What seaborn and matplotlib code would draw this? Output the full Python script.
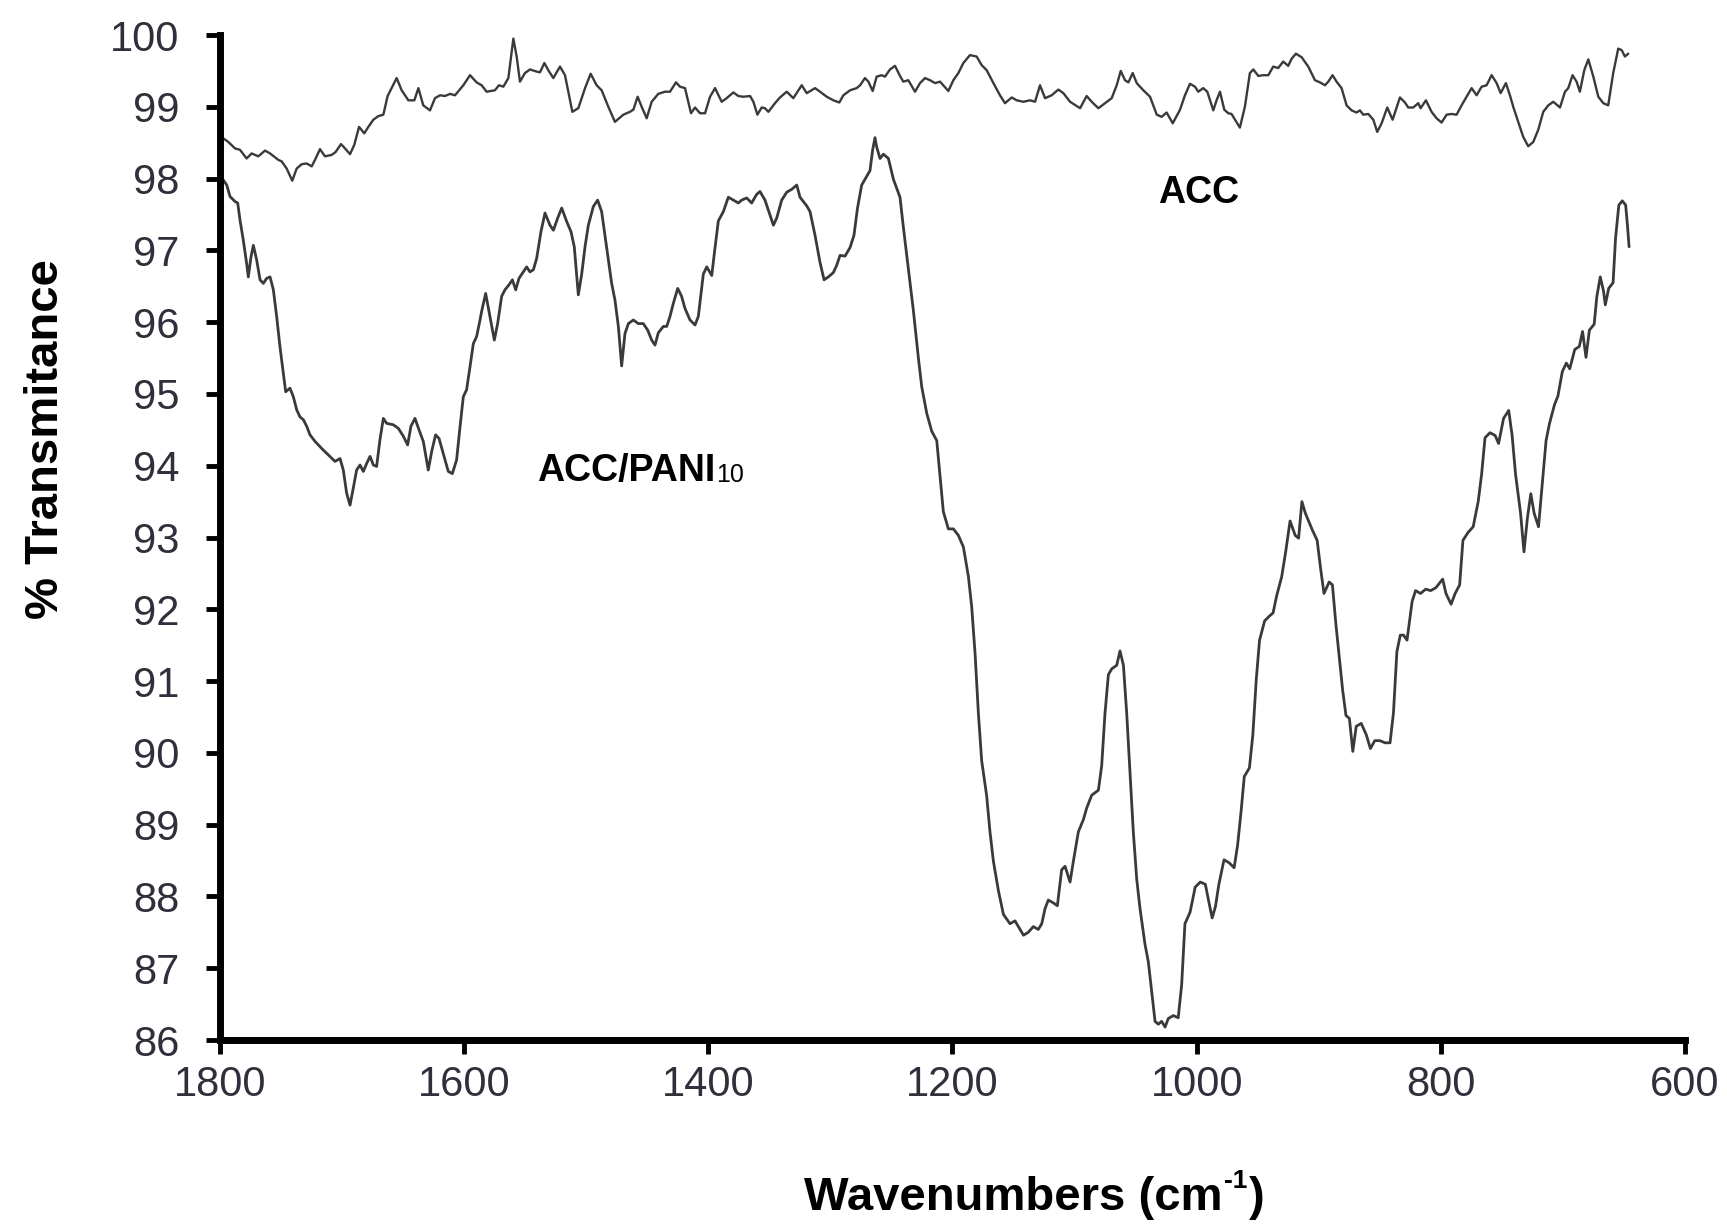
import matplotlib
matplotlib.use("Agg")
import matplotlib.pyplot as plt
import seaborn as sns
import pandas as pd

# ---------------- data ----------------
acc_wn = [1797.3, 1793.2, 1787.7, 1783.6, 1778.2, 1774.1, 1771.3, 1768.6, 1763.1, 1759.0,
          1752.2, 1749.5, 1745.4, 1740.8, 1737.2, 1733.1, 1729.0, 1724.9, 1722.2, 1718.1,
          1714.0, 1708.5, 1705.3, 1700.9, 1697.6, 1693.5, 1690.0, 1686.1, 1681.8, 1678.5,
          1674.4, 1670.3, 1666.2, 1662.7, 1655.3, 1651.2, 1645.7, 1640.8, 1637.5, 1633.5,
          1628.0, 1623.9, 1619.8, 1615.7, 1611.6, 1607.5, 1600.7, 1595.2, 1589.8, 1585.7,
          1581.6, 1574.8, 1571.5, 1567.9, 1563.8, 1559.7, 1557.0, 1554.3, 1550.2, 1546.1,
          1540.6, 1537.9, 1534.3, 1531.1, 1527.0, 1521.5, 1517.4, 1511.4, 1506.5, 1501.0,
          1496.4, 1491.5, 1487.4, 1481.9, 1476.5, 1469.6, 1464.2, 1461.4, 1457.9, 1454.6,
          1450.5, 1446.4, 1441.0, 1435.5, 1431.4, 1426.5, 1423.2, 1419.1, 1414.2, 1410.9,
          1406.8, 1402.7, 1398.6, 1394.5, 1389.1, 1385.0, 1379.5, 1375.4, 1371.3, 1365.8,
          1363.1, 1359.8, 1356.3, 1353.6, 1350.8, 1345.4, 1341.3, 1335.8, 1330.4, 1323.5,
          1319.4, 1312.6, 1308.5, 1303.0, 1297.6, 1292.7, 1289.4, 1283.9, 1278.5, 1275.7,
          1271.7, 1268.9, 1265.4, 1262.1, 1258.0, 1255.3, 1251.2, 1247.1, 1243.0, 1240.3,
          1236.2, 1230.7, 1226.6, 1222.5, 1218.4, 1214.3, 1210.2, 1203.4, 1199.3, 1195.2,
          1191.1, 1185.7, 1180.2, 1176.1, 1172.0, 1166.5, 1161.1, 1157.0, 1151.5, 1147.4,
          1142.0, 1136.5, 1132.4, 1128.3, 1124.2, 1118.8, 1113.3, 1109.2, 1103.7, 1095.5,
          1090.1, 1086.0, 1080.5, 1075.1, 1069.6, 1065.5, 1062.2, 1058.7, 1055.9, 1052.4,
          1049.1, 1043.7, 1038.2, 1032.7, 1028.7, 1024.6, 1019.6, 1013.6, 1009.6, 1005.5,
          1001.4, 998.7, 994.6, 991.3, 986.4, 983.7, 980.9, 977.4, 974.1, 971.4,
          968.6, 964.6, 960.5, 956.4, 953.6, 949.5, 945.4, 941.3, 937.3, 933.2,
          929.1, 925.0, 922.2, 918.7, 914.0, 908.6, 903.1, 899.0, 894.9, 892.2,
          888.7, 885.4, 881.3, 877.2, 873.1, 869.0, 866.3, 863.5, 859.4, 855.3,
          852.1, 848.5, 843.9, 839.5, 833.5, 829.4, 826.7, 822.6, 818.5, 816.6,
          812.2, 807.6, 803.5, 799.4, 795.3, 791.2, 787.1, 783.0, 778.9, 774.8,
          770.7, 766.6, 762.5, 758.4, 754.3, 751.0, 746.7, 743.4, 740.7, 736.6,
          732.5, 728.4, 724.3, 720.2, 716.1, 712.0, 707.9, 702.4, 698.3, 695.6,
          692.1, 688.8, 686.1, 682.5, 679.2, 675.1, 671.0, 666.9, 662.9, 658.8,
          654.7, 651.9, 649.2, 646.5]
acc_t = [98.56, 98.51, 98.42, 98.40, 98.28, 98.35, 98.33, 98.31, 98.39, 98.35,
         98.26, 98.24, 98.14, 97.97, 98.14, 98.20, 98.21, 98.17, 98.26, 98.41,
         98.31, 98.33, 98.37, 98.48, 98.42, 98.34, 98.47, 98.72, 98.63, 98.72,
         98.82, 98.87, 98.89, 99.15, 99.40, 99.23, 99.09, 99.09, 99.26, 99.02,
         98.95, 99.12, 99.16, 99.15, 99.18, 99.16, 99.30, 99.44, 99.34, 99.30,
         99.21, 99.23, 99.30, 99.28, 99.40, 99.95, 99.70, 99.35, 99.47, 99.52,
         99.49, 99.48, 99.61, 99.51, 99.40, 99.56, 99.44, 98.93, 98.98, 99.26,
         99.46, 99.30, 99.23, 99.00, 98.79, 98.89, 98.93, 98.96, 99.14, 99.00,
         98.84, 99.07, 99.18, 99.21, 99.21, 99.34, 99.28, 99.26, 98.91, 98.99,
         98.91, 98.91, 99.14, 99.26, 99.07, 99.12, 99.20, 99.15, 99.14, 99.15,
         99.07, 98.89, 98.99, 98.98, 98.93, 99.05, 99.13, 99.21, 99.12, 99.30,
         99.19, 99.26, 99.21, 99.14, 99.09, 99.06, 99.16, 99.23, 99.26, 99.30,
         99.40, 99.35, 99.22, 99.42, 99.44, 99.42, 99.52, 99.57, 99.43, 99.35,
         99.37, 99.21, 99.33, 99.40, 99.37, 99.33, 99.35, 99.22, 99.37, 99.47,
         99.61, 99.72, 99.70, 99.58, 99.51, 99.33, 99.16, 99.05, 99.13, 99.09,
         99.07, 99.09, 99.07, 99.30, 99.12, 99.16, 99.24, 99.19, 99.07, 98.98,
         99.15, 99.07, 98.98, 99.05, 99.12, 99.30, 99.50, 99.37, 99.34, 99.47,
         99.33, 99.23, 99.14, 98.89, 98.86, 98.92, 98.77, 98.96, 99.16, 99.32,
         99.28, 99.21, 99.26, 99.21, 98.95, 99.09, 99.21, 98.96, 98.91, 98.90,
         98.82, 98.71, 99.00, 99.47, 99.52, 99.43, 99.44, 99.44, 99.56, 99.54,
         99.63, 99.57, 99.67, 99.74, 99.69, 99.56, 99.37, 99.34, 99.30, 99.35,
         99.44, 99.35, 99.26, 99.02, 98.95, 98.92, 98.95, 98.89, 98.90, 98.82,
         98.65, 98.77, 98.99, 98.82, 99.13, 99.06, 98.99, 98.99, 99.05, 98.98,
         99.09, 98.93, 98.84, 98.78, 98.89, 98.90, 98.89, 99.02, 99.14, 99.26,
         99.16, 99.28, 99.30, 99.44, 99.33, 99.19, 99.33, 99.16, 99.00, 98.79,
         98.58, 98.45, 98.51, 98.68, 98.93, 99.02, 99.07, 98.99, 99.21, 99.26,
         99.44, 99.35, 99.21, 99.51, 99.66, 99.42, 99.14, 99.05, 99.02, 99.47,
         99.81, 99.79, 99.70, 99.74]

pani_wn = [1797.3, 1794.5, 1791.8, 1787.7, 1785.5, 1783.6, 1780.9, 1778.2, 1776.8, 1774.6,
           1772.7, 1770.0, 1767.2, 1764.5, 1761.8, 1759.0, 1756.3, 1753.6, 1750.9, 1748.1,
           1746.2, 1742.7, 1739.9, 1737.2, 1734.5, 1731.7, 1729.0, 1726.3, 1722.2, 1716.7,
           1711.3, 1705.8, 1701.7, 1699.0, 1696.3, 1693.5, 1690.8, 1688.1, 1685.3, 1682.6,
           1679.9, 1677.1, 1674.4, 1671.7, 1669.0, 1666.2, 1663.5, 1658.0, 1653.9, 1649.8,
           1646.3, 1643.6, 1640.3, 1637.0, 1633.5, 1629.4, 1626.6, 1623.4, 1620.6, 1617.1,
           1613.0, 1609.7, 1606.2, 1603.4, 1600.7, 1598.0, 1595.2, 1592.5, 1589.8, 1587.0,
           1585.7, 1582.4, 1578.9, 1575.3, 1572.6, 1569.3, 1566.6, 1563.3, 1560.5, 1557.8,
           1555.1, 1551.5, 1548.8, 1546.1, 1543.3, 1540.6, 1537.1, 1533.8, 1529.7, 1526.9,
           1523.4, 1520.1, 1516.0, 1512.5, 1509.8, 1506.5, 1503.8, 1501.0, 1498.3, 1494.2,
           1490.7, 1487.4, 1484.7, 1481.9, 1479.2, 1476.5, 1473.7, 1471.0, 1468.3, 1465.5,
           1461.4, 1457.4, 1453.3, 1449.7, 1446.4, 1443.7, 1441.0, 1436.9, 1434.1, 1431.4,
           1428.7, 1425.1, 1421.9, 1419.1, 1415.0, 1410.9, 1408.2, 1404.1, 1401.3, 1397.2,
           1394.5, 1391.8, 1387.7, 1383.6, 1379.5, 1375.4, 1372.7, 1368.6, 1364.5, 1360.4,
           1357.7, 1353.6, 1349.5, 1346.7, 1344.0, 1339.9, 1335.8, 1331.7, 1327.6, 1324.9,
           1319.4, 1316.7, 1312.6, 1308.5, 1305.2, 1301.7, 1297.6, 1294.9, 1292.1, 1288.0,
           1283.9, 1280.7, 1277.9, 1274.4, 1270.3, 1267.6, 1265.4, 1263.5, 1262.1, 1259.4,
           1256.6, 1252.5, 1248.4, 1243.0, 1240.3, 1236.2, 1232.1, 1228.0, 1225.2, 1221.1,
           1217.0, 1212.9, 1210.2, 1207.5, 1203.4, 1199.3, 1195.2, 1191.1, 1187.0, 1184.3,
           1181.5, 1178.8, 1176.1, 1172.0, 1169.3, 1166.5, 1162.4, 1158.3, 1152.9, 1148.8,
           1144.7, 1141.9, 1137.9, 1133.8, 1129.7, 1126.9, 1124.2, 1121.5, 1117.4, 1114.1,
           1110.6, 1107.8, 1103.7, 1101.0, 1096.9, 1092.8, 1090.1, 1086.0, 1080.5, 1077.8,
           1075.1, 1072.3, 1069.6, 1065.5, 1062.8, 1060.0, 1057.3, 1054.6, 1051.9, 1049.1,
           1046.4, 1042.3, 1039.6, 1036.8, 1034.1, 1031.4, 1028.7, 1025.9, 1023.2, 1019.1,
           1015.1, 1012.3, 1009.6, 1005.4, 1001.2, 997.1, 992.9, 990.1, 987.3, 984.6,
           981.8, 977.6, 973.5, 969.3, 966.5, 963.7, 961.0, 956.8, 954.0, 951.2,
           948.5, 944.3, 940.1, 937.4, 934.6, 930.4, 927.1, 923.5, 919.3, 916.5,
           913.8, 911.0, 905.4, 901.3, 898.5, 895.7, 891.5, 888.8, 886.0, 883.2,
           880.4, 877.7, 874.9, 872.1, 869.3, 865.2, 861.0, 857.7, 854.1, 849.9,
           845.7, 841.6, 838.8, 836.0, 833.2, 830.5, 827.7, 823.5, 820.7, 816.6,
           812.4, 808.3, 804.1, 798.5, 795.8, 791.6, 788.3, 784.6, 781.9, 777.7,
           773.5, 769.4, 766.6, 763.8, 759.7, 755.5, 752.7, 748.6, 744.4, 741.6,
           738.8, 734.7, 731.9, 729.1, 726.3, 723.6, 720.0, 716.6, 713.8, 711.1,
           706.9, 704.1, 700.5, 697.2, 694.4, 690.3, 686.6, 683.9, 681.1, 678.3,
           674.4, 672.2, 669.4, 666.7, 665.3, 662.5, 658.9, 656.9, 654.2, 651.4,
           648.6, 647.2, 645.8]
pani_t = [97.98, 97.91, 97.75, 97.68, 97.66, 97.42, 97.14, 96.82, 96.63, 96.91,
          97.07, 96.87, 96.59, 96.54, 96.61, 96.63, 96.45, 96.08, 95.66, 95.29,
          95.03, 95.08, 94.96, 94.78, 94.68, 94.64, 94.55, 94.43, 94.34, 94.24,
          94.15, 94.06, 94.10, 93.94, 93.62, 93.45, 93.69, 93.94, 94.01, 93.92,
          94.03, 94.13, 94.01, 93.99, 94.36, 94.66, 94.59, 94.57, 94.52, 94.41,
          94.29, 94.55, 94.66, 94.50, 94.34, 93.94, 94.20, 94.43, 94.38, 94.17,
          93.92, 93.89, 94.08, 94.54, 94.96, 95.06, 95.38, 95.70, 95.80, 96.03,
          96.15, 96.40, 96.08, 95.75, 95.98, 96.36, 96.45, 96.52, 96.59, 96.45,
          96.61, 96.70, 96.77, 96.70, 96.73, 96.89, 97.26, 97.52, 97.35, 97.28,
          97.45, 97.59, 97.40, 97.26, 97.05, 96.38, 96.66, 97.05, 97.35, 97.61,
          97.70, 97.54, 97.21, 96.87, 96.54, 96.31, 95.94, 95.39, 95.84, 95.98,
          96.03, 95.98, 95.98, 95.89, 95.75, 95.68, 95.85, 95.94, 95.94, 96.08,
          96.26, 96.47, 96.36, 96.19, 96.03, 95.96, 96.08, 96.67, 96.77, 96.65,
          97.04, 97.41, 97.54, 97.74, 97.70, 97.66, 97.70, 97.73, 97.66, 97.78,
          97.82, 97.70, 97.49, 97.35, 97.45, 97.70, 97.81, 97.85, 97.91, 97.74,
          97.62, 97.54, 97.21, 96.83, 96.59, 96.63, 96.69, 96.79, 96.93, 96.92,
          97.04, 97.21, 97.58, 97.91, 98.03, 98.11, 98.40, 98.57, 98.44, 98.28,
          98.34, 98.28, 97.99, 97.74, 97.33, 96.75, 96.17, 95.51, 95.10, 94.73,
          94.48, 94.35, 93.86, 93.36, 93.12, 93.12, 93.03, 92.87, 92.46, 92.04,
          91.38, 90.55, 89.89, 89.40, 88.90, 88.49, 88.08, 87.75, 87.62, 87.66,
          87.54, 87.46, 87.50, 87.58, 87.54, 87.62, 87.83, 87.95, 87.91, 87.87,
          88.37, 88.42, 88.20, 88.49, 88.90, 89.07, 89.23, 89.41, 89.48, 89.82,
          90.55, 91.09, 91.17, 91.22, 91.42, 91.22, 90.55, 89.73, 88.90, 88.24,
          87.83, 87.33, 87.09, 86.67, 86.26, 86.22, 86.26, 86.18, 86.30, 86.34,
          86.31, 86.77, 87.62, 87.78, 88.13, 88.20, 88.17, 87.93, 87.70, 87.86,
          88.17, 88.51, 88.47, 88.40, 88.71, 89.17, 89.67, 89.79, 90.25, 91.02,
          91.57, 91.84, 91.91, 91.95, 92.18, 92.45, 92.80, 93.23, 93.03, 92.99,
          93.50, 93.34, 93.11, 92.96, 92.57, 92.22, 92.38, 92.34, 91.80, 91.33,
          90.87, 90.52, 90.48, 90.02, 90.37, 90.41, 90.25, 90.06, 90.17, 90.17,
          90.14, 90.14, 90.56, 91.41, 91.64, 91.64, 91.57, 92.11, 92.26, 92.22,
          92.28, 92.26, 92.30, 92.42, 92.22, 92.07, 92.22, 92.34, 92.96, 93.07,
          93.15, 93.50, 93.88, 94.39, 94.46, 94.42, 94.31, 94.66, 94.77, 94.42,
          93.88, 93.34, 92.80, 93.27, 93.61, 93.34, 93.15, 93.81, 94.35, 94.58,
          94.85, 94.97, 95.31, 95.43, 95.35, 95.62, 95.66, 95.87, 95.51, 95.89,
          95.97, 96.36, 96.63, 96.43, 96.24, 96.47, 96.55, 97.17, 97.63, 97.69,
          97.63, 97.36, 97.05]

x_ticks = [1800, 1600, 1400, 1200, 1000, 800, 600]
y_ticks = list(range(86, 101))
x_label = "Wavenumbers (cm"
x_label_sup = "-1"
y_label = "% Transmitance"
label_acc = "ACC"
label_pani = "ACC/PANI"
label_pani_sub = "10"

# ---------------- style ----------------
sns.set_theme(style="white")
plt.rcParams["font.family"] = ["Liberation Sans", "DejaVu Sans"]

line_color = "#3a3a3a"
tick_color = "#30303c"

df_acc = pd.DataFrame({"wn": acc_wn, "T": acc_t})
df_pani = pd.DataFrame({"wn": pani_wn, "T": pani_t})

fig = plt.figure(figsize=(17.27, 12.24), dpi=100)
ax = fig.add_axes([220 / 1727, 1 - 1040 / 1224, (1685 - 220) / 1727, (1040 - 35) / 1224])

sns.lineplot(data=df_acc, x="wn", y="T", ax=ax, color=line_color, lw=1.7,
             estimator=None, sort=False)
sns.lineplot(data=df_pani, x="wn", y="T", ax=ax, color=line_color, lw=2.0,
             estimator=None, sort=False)

ax.set_xlim(1800, 600)
ax.set_ylim(86, 100)
ax.set_xticks(x_ticks)
ax.set_yticks(y_ticks)
ax.set_xticklabels([str(v) for v in x_ticks])
ax.set_yticklabels([str(v) for v in y_ticks])
ax.set_xlabel("")
ax.set_ylabel("")

for side in ["top", "right"]:
    ax.spines[side].set_visible(False)
for side in ["left", "bottom"]:
    ax.spines[side].set_linewidth(5)
    ax.spines[side].set_color("black")
    ax.spines[side].set_capstyle("projecting")

ax.tick_params(axis="both", which="major", direction="out", length=10, width=3.5,
               color="black", labelsize=30, labelcolor=tick_color)
ax.tick_params(axis="y", pad=19, left=True)
ax.tick_params(axis="x", pad=8, bottom=True)
ax.grid(False)
ax.set_facecolor("white")
fig.patch.set_facecolor("white")

# curve labels
ax.text(1031.7, 97.66, label_acc, fontsize=27, fontweight="bold", color="black",
        ha="left", va="baseline")
t_p = ax.text(1540.3, 93.79, label_pani, fontsize=27, fontweight="bold", color="black",
              ha="left", va="baseline")
ax.annotate(label_pani_sub, xy=(1, 0), xycoords=t_p, xytext=(0.5, 1.5),
            textcoords="offset points", fontsize=18, color="black",
            ha="left", va="bottom")

# axis labels
fig.text(46 / 1727, 1 - 439 / 1224, y_label, rotation=90, fontsize=34,
         fontweight="bold", ha="center", va="center", color="black")
t1 = fig.text(804 / 1727, 1 - 1210 / 1224, x_label, fontsize=34, fontweight="bold",
              ha="left", va="baseline", color="black")
t2 = ax.annotate(x_label_sup, xy=(1, 1), xycoords=t1, xytext=(1, 5),
                 textcoords="offset points", fontsize=19, fontweight="bold",
                 ha="left", va="top", color="black", annotation_clip=False)
ax.annotate(")", xy=(1, 0), xycoords=(t2, t1), xytext=(1, 0),
            textcoords="offset points", fontsize=34, fontweight="bold",
            ha="left", va="bottom", color="black", annotation_clip=False)

fig.savefig("out.png", dpi=100, facecolor="white")
